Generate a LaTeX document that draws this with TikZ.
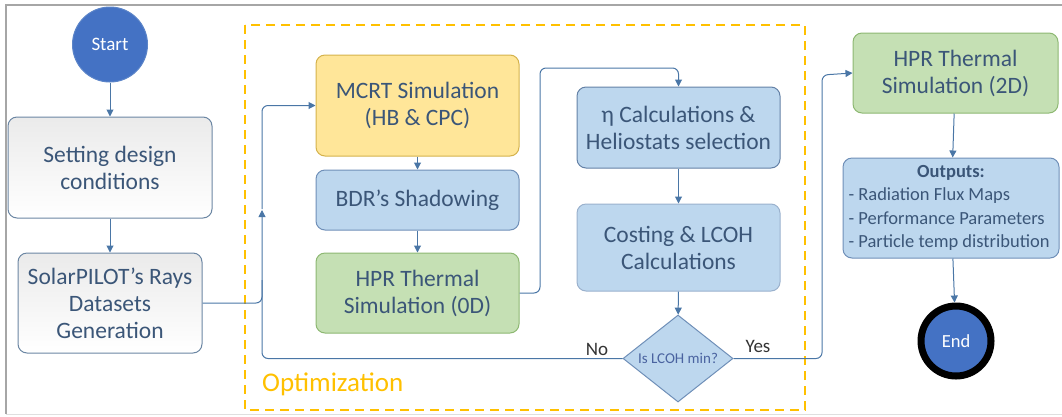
\documentclass[tikz,border=0pt]{standalone}
\usepackage{fontspec}
\setmainfont{Carlito}
\usetikzlibrary{arrows.meta,shapes.geometric,calc}
\definecolor{conn}{HTML}{4A76A6}
\definecolor{txt}{HTML}{3B5678}
\definecolor{yfill}{HTML}{FFE699}
\definecolor{ydraw}{HTML}{D4B24C}
\definecolor{bfill}{HTML}{BDD7EE}
\definecolor{bdraw}{HTML}{6F8FB8}
\definecolor{gfill}{HTML}{C5E0B4}
\definecolor{gdraw}{HTML}{8DB872}
\definecolor{circ}{HTML}{4472C4}
\definecolor{circd}{HTML}{5B84C8}
\definecolor{opt}{HTML}{FFC000}
\definecolor{grayb}{HTML}{6B86A3}
\definecolor{dtxt}{HTML}{4A63A0}
\tikzset{
  box/.style={rounded corners=9pt, line width=1pt, inner sep=0pt, align=center,
    text=txt, font=\fontsize{23.5}{27}\selectfont},
  ybox/.style={box, fill=yfill, draw=ydraw},
  bbox/.style={box, fill=bfill, draw=bdraw},
  gbox/.style={box, fill=gfill, draw=gdraw},
  wbox/.style={box, draw=grayb, top color=black!8, bottom color=white},
  conn/.style={draw=conn, line width=1pt, rounded corners=6pt},
  arr/.style={conn, -{Triangle[width=7pt,length=7pt]}},
  term/.style={circle, inner sep=0pt, fill=circ, text=white},
}
\begin{document}
\begin{tikzpicture}[x=1pt,y=-1pt]
\useasboundingbox (0,0) rectangle (1062,416);
% frame
\draw[gray!70, line width=1.3pt] (1062,5) -- (6,5) -- (6,414);
\draw[gray!25, line width=1pt] (6,414) -- (1062,414);
% optimization region
\draw[opt, line width=1.5pt, dash pattern=on 9pt off 6pt] (245,25) rectangle (805,410);
\node[anchor=west, text=opt, font=\fontsize{27}{30}\selectfont, inner sep=0pt] (optl) at (262,384) {Optimization};
% nodes
\node[term, draw=circd, line width=1pt, minimum size=75pt, font=\fontsize{19}{22}\selectfont] (start) at (110,44.5) {Start};
\node[wbox, minimum width=204pt, minimum height=101pt] (set) at (110,167.5) {Setting design\\conditions};
\node[wbox, minimum width=184pt, minimum height=100pt] (sp) at (110,303) {SolarPILOT’s Rays\\Datasets\\Generation};
\node[ybox, minimum width=203pt, minimum height=101pt] (mcrt) at (417.5,105.5) {MCRT Simulation\\(HB \& CPC)};
\node[bbox, minimum width=203pt, minimum height=60pt] (bdr) at (417.5,200) {BDR’s Shadowing};
\node[gbox, minimum width=203pt, minimum height=80pt] (hpr0) at (417.5,293) {HPR Thermal\\Simulation (0D)};
\node[bbox, draw=bdraw!90!black, minimum width=203pt, minimum height=81pt] (eta) at (678.5,127.5) {η Calculations \&\\Heliostats selection};
\node[bbox, draw=bdraw!70!white, minimum width=203pt, minimum height=87pt] (cost) at (678.5,247.5) {Costing \& LCOH\\Calculations};
\node[diamond, fill=bfill, draw=bdraw, line width=1pt, minimum width=110pt, minimum height=87pt, inner sep=0pt, aspect=1.26,
  text=dtxt, font=\fontsize{15}{17}\selectfont] (dia) at (678,358.5) {Is LCOH min?};
\node[gbox, minimum width=205pt, minimum height=80pt] (hpr2) at (955.5,73) {HPR Thermal\\Simulation (2D)};
\node[bbox, minimum width=216pt, minimum height=100pt, align=left, font=\fontsize{18.5}{23.5}\selectfont] (out) at (951,208)
  {\hspace*{0pt}\makebox[205pt][c]{\bfseries Outputs:}\\- Radiation Flux Maps\\- Performance Parameters\\- Particle temp distribution};
\node[term, draw=black, line width=7pt, minimum size=70pt, font=\fontsize{18.5}{22}\selectfont] (end) at (956,341) {End};
% connectors
\draw[arr] (start) -- (set);
\draw[arr] (set) -- (sp);
\draw[arr] (mcrt) -- (bdr);
\draw[arr] (bdr) -- (hpr0);
\draw[arr] (eta) -- (cost);
\draw[arr] (cost) -- (dia);
\draw[arr] (hpr2) -- (out);
\draw[arr] (out) -- (end);
\coordinate (lx) at (262,210);
\draw[arr] (dia.west) -| (lx);
\draw[conn] (sp.east) -| (262,280);
\draw[arr] ($(lx)+(0,-1)$) |- (mcrt.west);
\draw[arr] (hpr0.east) -| (540,68) -| (eta.north);
\draw[arr] (dia.east) -| (822,75) -- (hpr2.west);
\node[font=\fontsize{19}{22}\selectfont, text=black!80, anchor=south, inner sep=2pt] (no) at (597,358) {No};
\node[font=\fontsize{19}{22}\selectfont, text=black!80, anchor=south, inner sep=2pt] (yes) at (758,355) {Yes};
\end{tikzpicture}
\end{document}
